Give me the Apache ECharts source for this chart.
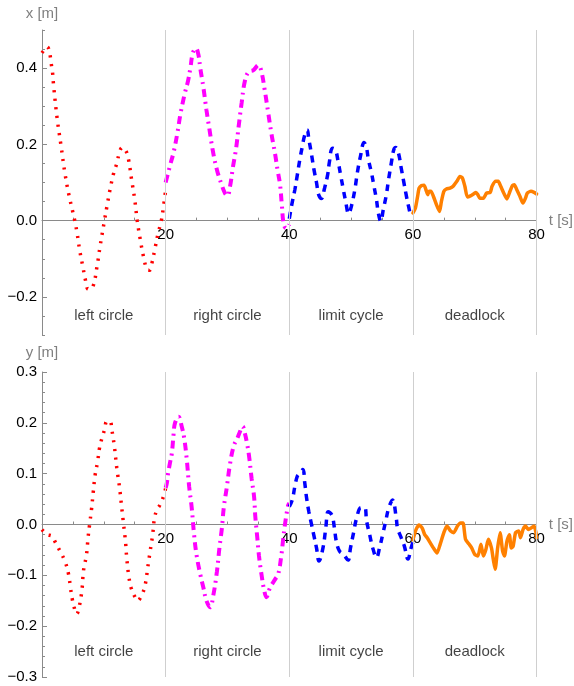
<!DOCTYPE html>
<html>
<head>
<meta charset="utf-8">
<title>x and y over time</title>
<script src="https://cdn.jsdelivr.net/npm/echarts@6/dist/echarts.min.js"></script>
<style>
  html, body { margin: 0; padding: 0; background: #fff; }
  #main { width: 574px; height: 686px; }
</style>
</head>
<body>
<div id="main"></div>
<script>
// x [m] per phase, pairs of [t, x]
var xLeft = [[0,0.44],[0.8,0.456],[1.6,0.40],[1.9,0.35],[2.45,0.268],[3.1,0.194],[3.7,0.125],[4.4,0.064],[5.3,0.0],[5.7,-0.035],[6.1,-0.078],[6.6,-0.12],[7.0,-0.154],[7.5,-0.18],[8.2,-0.175],[8.9,-0.12],[9.4,-0.067],[10.1,0],[10.5,0.037],[11.0,0.081],[11.6,0.125],[12.1,0.15],[12.6,0.183],[13.0,0.192],[13.6,0.182],[14.0,0.16],[14.5,0.107],[15.0,0.055],[15.4,0],[15.9,-0.05],[16.4,-0.093],[17.0,-0.128],[17.4,-0.13],[17.8,-0.11],[18.3,-0.071],[18.8,-0.032],[19.3,0],[19.65,0.037],[20,0.08]];
var xRight = [[20,0.10],[20.8,0.15],[21.3,0.18],[21.9,0.23],[22.4,0.28],[23.1,0.334],[23.6,0.365],[24.0,0.40],[24.4,0.44],[24.9,0.452],[25.3,0.435],[25.6,0.40],[26.1,0.35],[26.6,0.29],[27.1,0.238],[27.6,0.186],[28.3,0.133],[29.1,0.092],[29.6,0.072],[30.0,0.065],[30.4,0.088],[30.9,0.142],[31.4,0.19],[31.8,0.246],[32.3,0.31],[32.8,0.365],[33.4,0.39],[34.2,0.395],[35.0,0.408],[35.5,0.39],[36.0,0.345],[36.6,0.282],[37.1,0.229],[37.7,0.175],[38.1,0.133],[38.5,0.095],[38.8,0.04],[39.1,-0.01],[39.5,-0.02],[40,-0.01]];
var xLimit = [[40,0.005],[40.45,0.046],[40.9,0.081],[41.3,0.12],[41.7,0.16],[42.1,0.194],[42.5,0.225],[42.9,0.238],[43.15,0.215],[43.6,0.173],[44.0,0.133],[44.4,0.10],[44.75,0.068],[45.2,0.058],[45.7,0.085],[46.2,0.12],[46.5,0.155],[46.97,0.19],[47.45,0.186],[47.9,0.155],[48.3,0.12],[48.7,0.085],[49.1,0.052],[49.6,0.018],[50.0,0.035],[50.6,0.081],[51.0,0.125],[51.5,0.168],[52.1,0.205],[52.45,0.194],[52.8,0.16],[53.3,0.125],[53.7,0.09],[54.1,0.055],[54.4,0.02],[54.8,-0.002],[55.2,0.029],[55.7,0.068],[56.05,0.107],[56.5,0.151],[56.9,0.186],[57.2,0.192],[57.66,0.177],[58.1,0.138],[58.5,0.103],[58.9,0.068],[59.3,0.037],[59.7,0.018],[60,0.018]];
var xDead = [[60,0.02],[60.4,0.033],[60.76,0.064],[61.0,0.085],[61.4,0.092],[61.8,0.093],[62.1,0.081],[62.4,0.068],[62.6,0.077],[62.9,0.077],[63.3,0.064],[63.8,0.042],[64.3,0.024],[64.6,0.05],[65.0,0.077],[65.4,0.083],[66.0,0.085],[66.5,0.09],[67.1,0.103],[67.6,0.116],[68.0,0.112],[68.4,0.09],[68.8,0.062],[69.3,0.065],[69.8,0.07],[70.2,0.074],[70.5,0.068],[70.8,0.059],[71.4,0.059],[71.9,0.072],[72.5,0.074],[72.8,0.09],[73.4,0.103],[73.8,0.103],[74.2,0.09],[74.7,0.072],[75.2,0.057],[75.7,0.077],[76.1,0.092],[76.4,0.094],[76.8,0.081],[77.3,0.064],[77.8,0.046],[78.2,0.059],[78.5,0.072],[79.1,0.077],[79.6,0.074],[80,0.07]];

// y [m] per phase, pairs of [t, y]
var yLeft = [[0,-0.01],[0.84,-0.02],[1.6,-0.023],[2.2,-0.036],[2.9,-0.052],[3.7,-0.072],[4.3,-0.098],[4.6,-0.124],[4.9,-0.147],[5.2,-0.163],[5.6,-0.176],[6.1,-0.157],[6.5,-0.124],[6.7,-0.092],[7.2,-0.059],[7.45,-0.026],[7.7,0],[8.0,0.029],[8.3,0.065],[8.6,0.098],[9.0,0.124],[9.3,0.15],[9.7,0.17],[10.1,0.186],[10.5,0.203],[11.0,0.203],[11.3,0.186],[11.7,0.154],[12.1,0.111],[12.55,0.072],[12.9,0.033],[13.2,0],[13.5,-0.033],[13.7,-0.065],[14.0,-0.098],[14.4,-0.124],[15.1,-0.144],[15.45,-0.15],[16.2,-0.137],[16.7,-0.118],[17.1,-0.085],[17.5,-0.052],[17.9,-0.02],[18.2,0.013],[18.6,0.029],[19.1,0.039],[19.76,0.059],[20,0.072]];
var yRight = [[20,0.072],[20.2,0.082],[20.4,0.101],[20.7,0.121],[21.0,0.14],[21.3,0.18],[21.5,0.199],[22.1,0.212],[22.6,0.193],[23.0,0.17],[23.4,0.13],[23.8,0.075],[24.2,0.035],[24.6,-0.02],[25.0,-0.06],[25.6,-0.098],[26.1,-0.124],[26.6,-0.15],[27.2,-0.163],[27.7,-0.14],[28.3,-0.092],[28.7,-0.046],[29.1,-0.007],[29.4,0.033],[29.9,0.074],[30.4,0.118],[31.0,0.154],[31.6,0.17],[32.0,0.182],[32.45,0.193],[32.8,0.18],[33.2,0.157],[33.5,0.134],[33.9,0.091],[34.3,0.055],[34.5,0.016],[34.8,-0.023],[35.1,-0.062],[35.5,-0.098],[35.9,-0.127],[36.3,-0.143],[36.9,-0.124],[37.7,-0.108],[38.2,-0.098],[38.7,-0.062],[39.0,-0.03],[39.3,0.0],[39.8,0.037],[40,0.042]];
var yLimit = [[40,0.035],[40.5,0.049],[40.9,0.075],[41.3,0.095],[41.7,0.101],[42.2,0.108],[42.5,0.082],[42.8,0.052],[43.15,0.026],[43.6,0],[44.0,-0.023],[44.4,-0.046],[44.8,-0.072],[45.45,-0.046],[45.9,-0.007],[46.3,0.025],[46.9,0.018],[47.3,-0.007],[47.6,-0.033],[48.1,-0.052],[48.8,-0.059],[49.5,-0.07],[49.9,-0.046],[50.4,-0.016],[50.9,0.013],[51.6,0.033],[52.2,0.033],[52.5,0.007],[53.0,-0.02],[53.5,-0.046],[54.1,-0.065],[54.6,-0.046],[55.1,-0.02],[55.6,0.007],[56.1,0.033],[56.7,0.048],[57.3,0.013],[57.5,-0.007],[58.1,-0.026],[58.6,-0.042],[59.2,-0.068],[59.7,-0.046],[60,-0.035]];
var yDead = [[60,-0.03],[60.5,-0.01],[61.0,-0.001],[61.5,-0.007],[61.9,-0.02],[62.3,-0.026],[62.8,-0.036],[63.3,-0.046],[63.9,-0.056],[64.4,-0.039],[65.0,-0.016],[65.5,-0.003],[66.1,-0.013],[66.6,-0.016],[67.2,-0.003],[67.7,0.003],[68.1,0.003],[68.5,-0.029],[69.1,-0.039],[69.5,-0.046],[70.0,-0.059],[70.5,-0.062],[71.0,-0.039],[71.4,-0.062],[71.8,-0.049],[72.2,-0.029],[72.7,-0.046],[73.0,-0.069],[73.3,-0.088],[73.7,-0.046],[74.1,-0.016],[74.5,-0.052],[74.8,-0.062],[75.2,-0.033],[75.6,-0.02],[75.9,-0.046],[76.2,-0.043],[76.6,-0.016],[77.1,-0.013],[77.4,-0.026],[77.8,-0.01],[78.2,-0.003],[78.7,-0.01],[79.1,-0.007],[79.6,-0.003],[79.9,-0.016],[80,-0.026]];

var phaseNames = ['left circle', 'right circle', 'limit cycle', 'deadlock'];
var phaseCenters = [10, 30, 50, 70];
var phaseBounds = [20, 40, 60, 80];
var phaseLabelAt = -0.25;
var tLabels = [20, 40, 60, 80];
var xMajor = [-0.2, 0, 0.2, 0.4];
var yMajor = [-0.3, -0.2, -0.1, 0, 0.1, 0.2, 0.3];
var xRange = [-0.3, 0.5];
var yRange = [-0.3, 0.3];

var FONT = 'Liberation Sans, Arial, sans-serif';
var AXIS = '#8a8a8a';
var NAME = '#808080';
var PLOT_H = 305;

var lineStyles = [
  {color: '#ff0000', width: 3.5, type: [2.2, 6.5], cap: 'butt'},
  {color: '#ff00ff', width: 4, type: [8, 5, 2, 5], cap: 'butt'},
  {color: '#0000ff', width: 3.5, type: [7, 6], cap: 'butt'},
  {color: '#ff8000', width: 3.5, type: 'solid', join: 'round', cap: 'round'}
];

function isIn(v, list) {
  for (var i = 0; i < list.length; i++) {
    if (Math.abs(list[i] - v) < 1e-6) return true;
  }
  return false;
}

function fmt(v) {
  var r = Math.round(v * 10) / 10;
  if (r === 0) return '0.0';
  return r.toFixed(1).replace('-', '\u2212');
}

// time axis drawn through value 0 of the panel's vertical axis
function tAxis(grid, range) {
  var lift = (0 - range[0]) / (range[1] - range[0]) * PLOT_H;
  return {
    type: 'value', gridIndex: grid, min: 0, max: 80, interval: 5,
    position: 'bottom', offset: -lift,
    name: 't [s]', nameLocation: 'end', nameGap: 11,
    nameTextStyle: {color: NAME, fontSize: 15, fontFamily: FONT},
    axisLine: {onZero: false, lineStyle: {color: AXIS, width: 1}},
    axisTick: {inside: true, length: 3, lineStyle: {color: AXIS}},
    axisLabel: {
      color: '#000', fontSize: 15, fontFamily: FONT, margin: 7,
      formatter: function (v) { return isIn(v, tLabels) ? String(v) : ''; }
    },
    splitLine: {show: false}
  };
}

function valueAxis(grid, range, step, majors, name, gap) {
  return {
    type: 'value', gridIndex: grid, position: 'left', min: range[0], max: range[1], interval: step,
    name: name, nameLocation: 'end', nameGap: gap,
    nameTextStyle: {color: NAME, fontSize: 15, fontFamily: FONT, align: 'center'},
    axisLine: {show: true, onZero: false, lineStyle: {color: AXIS, width: 1}},
    axisTick: {show: true, inside: true, length: 3, lineStyle: {color: AXIS}},
    axisLabel: {
      color: '#000', fontSize: 15, fontFamily: FONT, margin: 5,
      formatter: function (v) { return isIn(v, majors) ? fmt(v) : ''; }
    },
    splitLine: {show: false}
  };
}

// second axis on the same spot, only for the longer ticks at the labelled values
function majorTicks(grid, range, majors) {
  return {
    type: 'value', gridIndex: grid, position: 'left', min: range[0], max: range[1],
    axisLine: {show: false, onZero: false},
    axisTick: {show: true, inside: true, length: 5, customValues: majors, lineStyle: {color: AXIS}},
    axisLabel: {show: false},
    splitLine: {show: false}
  };
}

var panels = [[xLeft, xRight, xLimit, xDead], [yLeft, yRight, yLimit, yDead]];

var series = [];
for (var p = 0; p < panels.length; p++) {
  for (var i = 0; i < panels[p].length; i++) {
    series.push({
      type: 'line',
      xAxisIndex: p,
      yAxisIndex: p * 2,
      data: panels[p][i],
      showSymbol: false,
      smooth: i === 3 ? 0.2 : 0.4,
      lineStyle: lineStyles[i],
      z: 3
    });
  }
  var labelData = [];
  for (var k = 0; k < phaseNames.length; k++) {
    labelData.push([phaseCenters[k], phaseLabelAt, phaseNames[k]]);
  }
  series.push({
    type: 'scatter',
    xAxisIndex: p,
    yAxisIndex: p * 2,
    symbolSize: 0,
    silent: true,
    z: 1,
    data: labelData,
    label: {
      show: true, position: 'inside', color: '#111', fontSize: 15, fontFamily: FONT,
      formatter: function (q) { return q.value[2]; }
    },
    markLine: {
      silent: true,
      symbol: ['none', 'none'],
      label: {show: false},
      lineStyle: {color: '#cfcfcf', type: 'solid', width: 1},
      data: phaseBounds.map(function (b) { return {xAxis: b}; })
    }
  });
}

var chart = echarts.init(document.getElementById('main'), null, {renderer: 'canvas'});
chart.setOption({
  animation: false,
  backgroundColor: '#fff',
  textStyle: {fontFamily: FONT},
  grid: [
    {left: 42, right: 37, top: 30, height: PLOT_H},
    {left: 42, right: 37, top: 372, height: PLOT_H}
  ],
  xAxis: [tAxis(0, xRange), tAxis(1, yRange)],
  yAxis: [
    valueAxis(0, xRange, 0.05, xMajor, 'x [m]', 9),
    majorTicks(0, xRange, xMajor),
    valueAxis(1, yRange, 0.02, yMajor, 'y [m]', 12),
    majorTicks(1, yRange, yMajor)
  ],
  series: series
});
</script>
</body>
</html>
